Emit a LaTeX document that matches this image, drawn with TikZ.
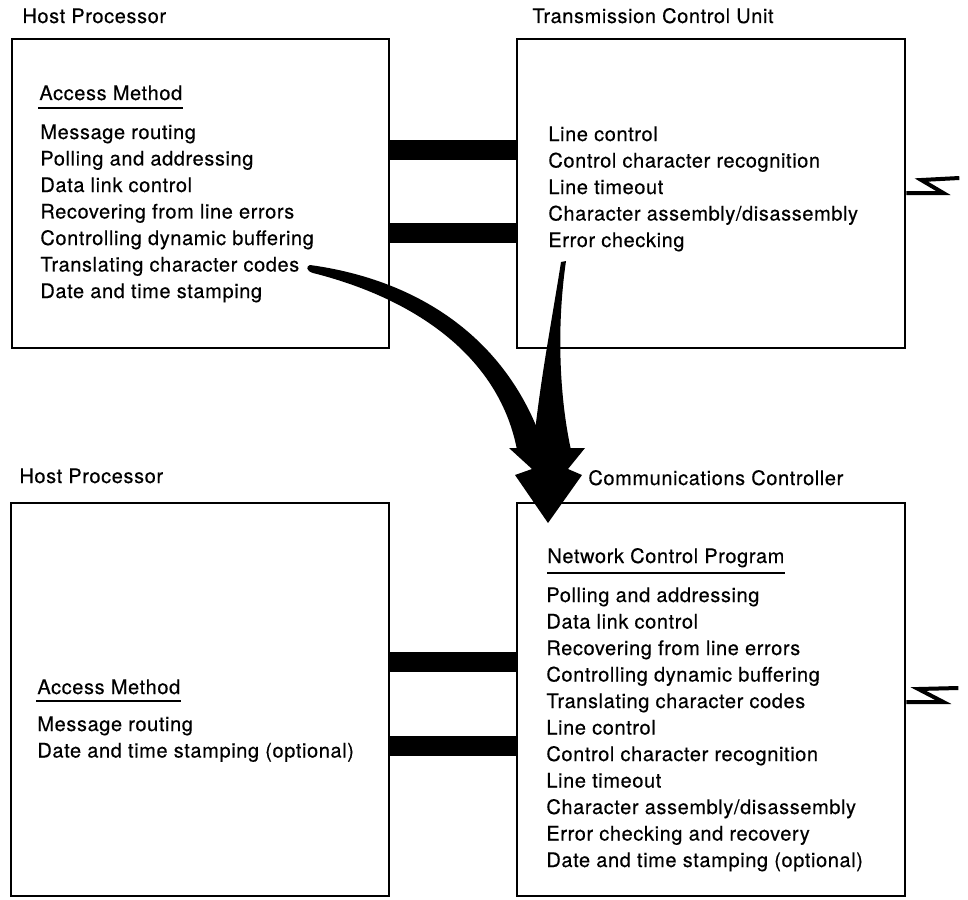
\documentclass[tikz,border=0pt]{standalone}
\usepackage{fontspec}
\setmainfont{TeX Gyre Heros}[LetterSpace=3, FakeBold=0.4]
\usetikzlibrary{fit,calc}

\newcommand{\itemlist}[1]{\begin{tabular}[t]{@{}l@{}}#1\end{tabular}}

\begin{document}
\begin{tikzpicture}[x=0.5pt, y=-0.5pt,
        unitbox/.style={draw, line width=1.3pt, inner sep=0pt},
        listtext/.style={anchor=base west, inner sep=0pt,
            font=\fontsize{10}{13.25}\selectfont},
        bar/.style={line width=10pt},
        bolt/.style={line width=2pt, line join=miter}]

        \useasboundingbox (0,0) rectangle (968,899);

        % the four boxes
        \node[unitbox, fit={(12,39) (389,348)}] (hostA) {};
        \node[unitbox, fit={(517,39) (905,348)}] (tcu) {};
        \node[unitbox, fit={(11,503) (389,896)}] (hostB) {};
        \node[unitbox, fit={(517,503) (905,896)}] (ncc) {};

        % titles over the boxes
        \node[listtext] (hostAtitle) at (22,23) {Host Processor};
        \node[listtext] (tcutitle) at (532,23) {Transmission Control Unit};
        \node[listtext] (hostBtitle) at (19,483) {Host Processor};
        \node[listtext] (ncctitle) at (588,485) {Communications Controller};

        % upper host processor
        \node[listtext] (hostAhead) at (39,100) {Access Method};
        \draw[line width=1.3pt] ($(hostAhead.base west)+(-1,8)$) -- ($(hostAhead.base east)+(0,8)$);
        \node[listtext] (hostAlist) at (40,139) {\itemlist{Message routing\\Polling and addressing\\Data link control\\Recovering from line errors\\Controlling dynamic buffering\\Translating character codes\\Date and time stamping}};

        % transmission control unit
        \node[listtext] (tculist) at (548,141) {\itemlist{Line control\\Control character recognition\\Line timeout\\Character assembly/disassembly\\Error checking}};

        % lower host processor
        \node[listtext] (hostBhead) at (37,694) {Access Method};
        \draw[line width=1.3pt] ($(hostBhead.base west)+(-1,7)$) -- ($(hostBhead.base east)+(0,7)$);
        \node[listtext] (hostBlist) at (37,731) {\itemlist{Message routing\\Date and time stamping (optional)}};

        % communications controller
        \node[listtext] (ncchead) at (547,563) {Network Control Program};
        \draw[line width=1.3pt] ($(ncchead.base west)+(0,10)$) -- ($(ncchead.base east)+(0,10)$);
        \node[listtext] (ncclist) at (546,602) {\itemlist{Polling and addressing\\Data link control\\Recovering from line errors\\Controlling dynamic buffering\\Translating character codes\\Line control\\Control character recognition\\Line timeout\\Character assembly/disassembly\\Error checking and recovery\\Date and time stamping (optional)}};

        % channels between the boxes
        \coordinate (chA1) at (0,150);
        \coordinate (chA2) at (0,233);
        \coordinate (chB1) at (0,662);
        \coordinate (chB2) at (0,746);
        \draw[bar] (hostA.east |- chA1) -- (tcu.west |- chA1);
        \draw[bar] (hostA.east |- chA2) -- (tcu.west |- chA2);
        \draw[bar] (hostB.east |- chB1) -- (ncc.west |- chB1);
        \draw[bar] (hostB.east |- chB2) -- (ncc.west |- chB2);

        % lines out
        \coordinate (lineA) at (0,193);
        \coordinate (lineB) at (0,702);
        \draw[bolt] (tcu.east |- lineA) -- ++(37,0) -- ++(-22,-13) -- ++(38,-2);
        \draw[bolt] (ncc.east |- lineB) -- ++(37,0) -- ++(-25,-13) -- ++(40,-1);

        % the functions move down into the controller
        \fill (310,265) .. controls (420,280) and (510,340) .. (545,450)
            -- (517,450) .. controls (500,360) and (420,300) .. (313,273)
            .. controls (306,271) and (306,266) .. cycle;
        \fill (561,262) .. controls (552,320) and (540,380) .. (533,450)
            -- (571,450) .. controls (560,400) and (556,330) .. (566,261) -- cycle;
        \fill (509,448) -- (532,469) -- (515,475) -- (548,523) -- (582,475)
            -- (568,469) -- (585,448) -- cycle;
    \end{tikzpicture}
\end{document}
